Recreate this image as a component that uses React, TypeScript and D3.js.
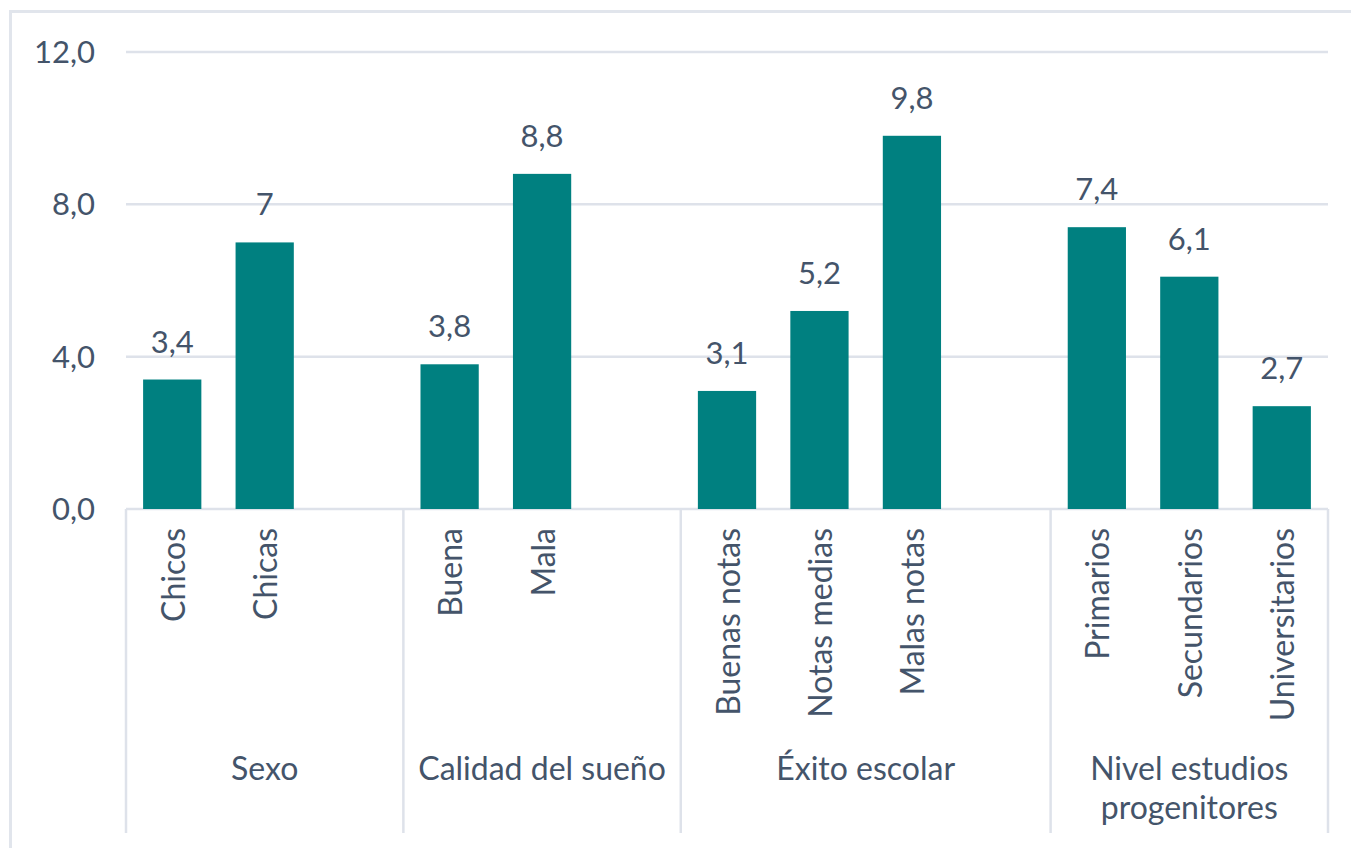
import React from "react";
import * as d3 from "d3";

const groups: string[][] = [["Sexo"], ["Calidad del sueño"], ["Éxito escolar"], ["Nivel estudios", "progenitores"]];
const categories = ["Chicos", "Chicas", "Buena", "Mala", "Buenas notas", "Notas medias", "Malas notas", "Primarios", "Secundarios", "Universitarios"];
const categoryGroup = [0, 0, 1, 1, 2, 2, 2, 3, 3, 3];
const values = [3.4, 7, 3.8, 8.8, 3.1, 5.2, 9.8, 7.4, 6.1, 2.7];
const valueLabels = ["3,4", "7", "3,8", "8,8", "3,1", "5,2", "9,8", "7,4", "6,1", "2,7"];
const yTicks = [0, 4, 8, 12];
const yTickLabels = ["0,0", "4,0", "8,0", "12,0"];

const W = 1351;
const H = 848;
const left = 126;
const right = 1328;
const top = 52;
const bottom = 509;
const textColor = "#44546A";
const gridColor = "#DEE2EA";
const barColor = "#008080";
const font = "Lato, 'Open Sans', sans-serif";

export default function App() {
  const slots: string[] = [];
  groups.forEach((_, g) => {
    categories.forEach((c, i) => {
      if (categoryGroup[i] === g) slots.push(c);
    });
    if (g < groups.length - 1) slots.push(`__gap${g}`);
  });
  const pad = 0.37;
  const x = d3.scaleBand<string>().domain(slots).range([left, right]).paddingInner(pad).paddingOuter(pad / 2);
  const y = d3.scaleLinear().domain([0, 12]).range([bottom, top]);
  const step = x.step();
  const slotStart = (k: string) => (x(k) as number) - (step * pad) / 2;

  const sepXs: number[] = [];
  const groupRanges: [number, number][] = [];
  groups.forEach((_, g) => {
    const first = categories.find((_, i) => categoryGroup[i] === g) as string;
    const start = slotStart(first);
    const nextKey = g < groups.length - 1 ? (categories.find((_, i) => categoryGroup[i] === g + 1) as string) : null;
    const end = nextKey ? slotStart(nextKey) : right;
    sepXs.push(start);
    groupRanges.push([start, end]);
  });
  sepXs.push(right);

  return (
    <svg width={W} height={H} style={{ position: "absolute", left: 0, top: 0, background: "#fff" }} fontFamily={font}>
      <rect x={10.5} y={11.5} width={W + 20} height={H + 20} fill="#fff" stroke="#E1E5EC" strokeWidth={3} />
      {yTicks.map((t, i) => (
        <g key={t}>
          <line x1={left} x2={right} y1={y(t)} y2={y(t)} stroke={gridColor} strokeWidth={2.5} />
          <text x={95} y={y(t)} dy="0.36em" textAnchor="end" fontSize={31} fill={textColor}>
            {yTickLabels[i]}
          </text>
        </g>
      ))}
      {sepXs.map((sx, i) => (
        <line key={i} x1={sx} x2={sx} y1={bottom} y2={833} stroke={gridColor} strokeWidth={2.5} />
      ))}
      {categories.map((c, i) => {
        const bx = x(c) as number;
        const cx = bx + x.bandwidth() / 2;
        return (
          <g key={c}>
            <rect x={bx} y={y(values[i])} width={x.bandwidth()} height={y(0) - y(values[i])} fill={barColor} />
            <text x={cx} y={y(values[i]) - 27} textAnchor="middle" fontSize={31} fill={textColor}>
              {valueLabels[i]}
            </text>
            <text
              transform={`translate(${cx + 1},528) rotate(-90)`}
              textAnchor="end"
              dy="0.36em"
              fontSize={32}
              fill={textColor}
            >
              {c}
            </text>
          </g>
        );
      })}
      {groups.map((lines, g) => {
        const [s, e] = groupRanges[g];
        const cx = (s + e) / 2;
        return (
          <text key={g} x={cx} y={780} textAnchor="middle" fontSize={32} fill={textColor}>
            {lines.map((l, j) => (
              <tspan key={j} x={cx} dy={j === 0 ? 0 : 39}>
                {l}
              </tspan>
            ))}
          </text>
        );
      })}
    </svg>
  );
}
